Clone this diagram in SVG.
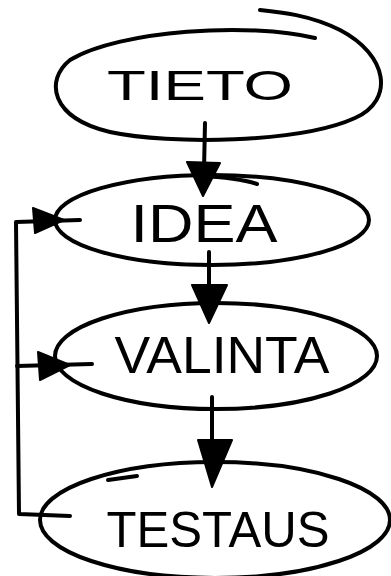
<svg xmlns="http://www.w3.org/2000/svg" width="391" height="576" viewBox="0 0 391 576">
<style>
.ln{fill:none;stroke:#000;stroke-width:4;stroke-linecap:round;stroke-linejoin:round}
.hd{fill:#000;stroke:#000;stroke-width:2;stroke-linejoin:round}
.tx{font-family:"Liberation Sans","DejaVu Sans",sans-serif;fill:#000;text-anchor:middle}
</style>
<rect width="391" height="576" fill="#fff"/>
<g id="tieto">
<path class="ln" d="M315,38 C250,22 120,30 70,60 C45,80 50,118 110,132 C170,145 300,143 355,118 C395,100 388,55 340,30 C310,15 280,12 260,10"/>
<text class="tx" x="200" y="100" font-size="42" textLength="186" lengthAdjust="spacingAndGlyphs">TIETO</text>
</g>
<g id="idea">
<ellipse class="ln" cx="212" cy="220" rx="157" ry="45"/>
<path class="ln" d="M200,176 C225,177 245,180 257,184"/>
<text class="tx" x="204" y="242" font-size="54" textLength="147" lengthAdjust="spacingAndGlyphs">IDEA</text>
</g>
<g id="valinta">
<ellipse class="ln" cx="216" cy="356" rx="161" ry="53"/>
<text class="tx" x="222" y="373" font-size="52" textLength="215" lengthAdjust="spacingAndGlyphs">VALINTA</text>
</g>
<g id="testaus">
<ellipse class="ln" cx="215" cy="520" rx="175" ry="58"/>
<path class="ln" d="M108,480 L137,476" stroke-width="5"/>
<text class="tx" x="218" y="547" font-size="50" textLength="223" lengthAdjust="spacingAndGlyphs">TESTAUS</text>
</g>
<g id="connectors">
<line class="ln" x1="205" y1="123" x2="204" y2="170"/>
<polygon class="hd" points="187,162 220,163 203,196"/>
<line class="ln" x1="209" y1="252" x2="209" y2="290"/>
<polygon class="hd" points="192,285 227,285 209,323"/>
<line class="ln" x1="212" y1="397" x2="212" y2="445"/>
<polygon class="hd" points="198,440 232,440 212,487"/>
<path class="ln" d="M70,516 L19,514 L16,222 L80,220"/>
<path class="ln" d="M17,366 L92,364"/>
<polygon class="hd" points="33,208 64,220 35,233"/>
<polygon class="hd" points="38,352 70,365 40,380"/>
</g>
</svg>
